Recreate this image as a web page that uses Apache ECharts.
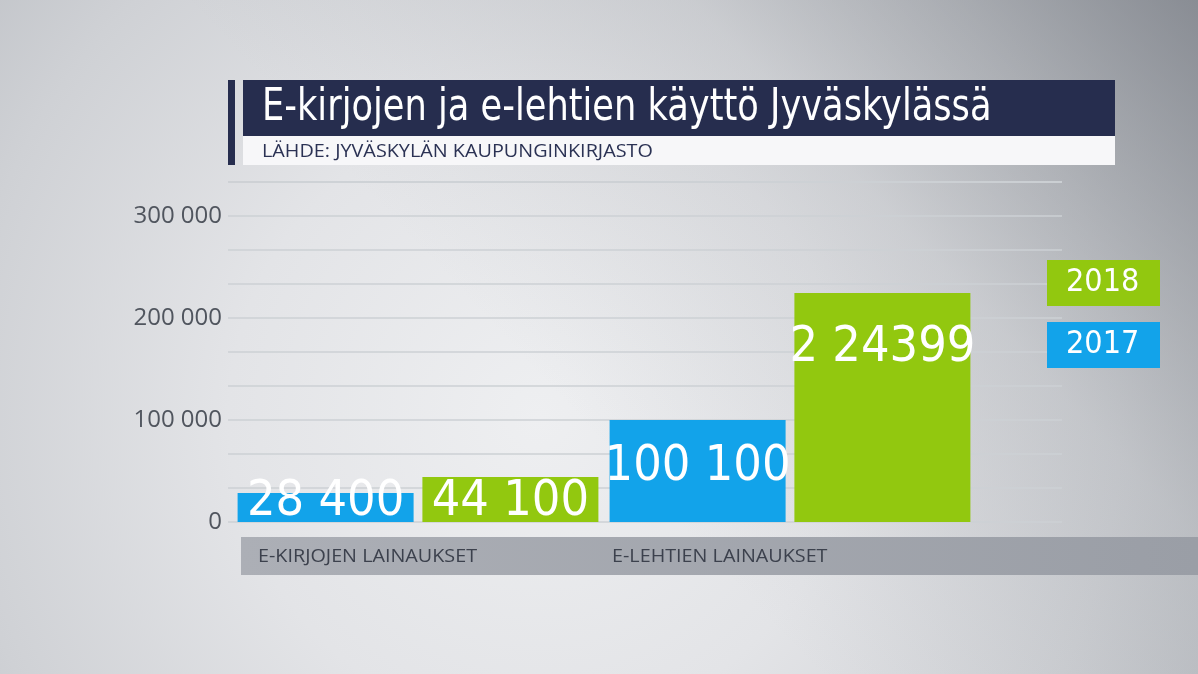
<!DOCTYPE html>
<html>
<head>
<meta charset="utf-8">
<script src="https://cdn.jsdelivr.net/npm/echarts@6/dist/echarts.min.js"></script>
<style>
    html, body { margin: 0; padding: 0; }
    #main { width: 1198px; height: 674px; }
</style>
</head>
<body>
<div id="main"></div>
<script>
// data
var categories = ['E-KIRJOJEN LAINAUKSET', 'E-LEHTIEN LAINAUKSET'];
var years = ['2017', '2018'];
var values2017 = [28400, 100100];
var values2018 = [44100, 224399];
var labels2017 = ['28 400', '100 100'];
var labels2018 = ['44 100', '2 24399'];
var yTicks = [0, 100000, 200000, 300000];

var BLUE = '#12a3ea';
var GREEN = '#92c80f';
var NAVY = '#262d4e';
var NARROW = "'DejaVu Sans Condensed', 'Open Sans', sans-serif";
var SANS = "'Open Sans', 'Noto Sans', sans-serif";

var step = 100000 / 3;
var yMax = step * 10;

function fmt(v) {
    return String(v).replace(/\B(?=(\d{3})+(?!\d))/g, ' ');
}

// label placement per bar
var pos2017 = [{position: 'insideBottom', distance: 0, offset: [0, 5]}, {position: 'inside', offset: [0, -4]}];
var pos2018 = [{position: 'insideBottom', distance: 0, offset: [0, 5]}, {position: 'insideTop', distance: 30}];

function makeData(values, labels, pos) {
    return values.map(function (v, i) {
        return {
            value: v,
            label: Object.assign({formatter: labels[i]}, pos[i])
        };
    });
}

var barLabel = {
    show: true,
    color: '#fff',
    fontFamily: NARROW,
    fontSize: 50,
    fontWeight: 'normal'
};

var myChart = echarts.init(document.getElementById('main'));

myChart.setOption({
    animation: false,
    backgroundColor: {
        type: 'radial', x: 0.45, y: 0.62, r: 1.15,
        colorStops: [
            {offset: 0, color: '#eeeff1'},
            {offset: 0.4, color: '#e3e4e7'},
            {offset: 0.75, color: '#cfd1d5'},
            {offset: 1, color: '#bcbfc4'}
        ]
    },
    graphic: [
        // darker top right corner
        {
            type: 'rect', z: -10, silent: true,
            shape: {x: 0, y: 0, width: 1198, height: 674},
            style: {
                fill: {
                    type: 'linear', x: 1, y: 0, x2: 0.55, y2: 0.75,
                    colorStops: [
                        {offset: 0, color: 'rgba(120,124,132,0.75)'},
                        {offset: 0.5, color: 'rgba(140,144,150,0.2)'},
                        {offset: 1, color: 'rgba(150,154,160,0)'}
                    ]
                }
            }
        },
        {type: 'rect', shape: {x: 228, y: 80, width: 7, height: 85}, style: {fill: NAVY}},
        {type: 'rect', shape: {x: 243, y: 80, width: 872, height: 56}, style: {fill: NAVY}},
        {type: 'rect', shape: {x: 243, y: 136, width: 872, height: 29}, style: {fill: '#f7f7f9'}},
        {
            type: 'text', x: 262, y: 109, scaleX: 0.89,
            style: {
                text: 'E-kirjojen ja e-lehtien käyttö Jyväskylässä',
                fill: '#fff', font: '44px ' + NARROW, verticalAlign: 'middle'
            }
        },
        {
            type: 'text', x: 262, y: 152, scaleX: 1.1,
            style: {
                text: 'LÄHDE: JYVÄSKYLÄN KAUPUNGINKIRJASTO',
                fill: '#2b3254', font: '18px ' + SANS, verticalAlign: 'middle'
            }
        },
        {
            type: 'rect', z: -1,
            shape: {x: 241, y: 537, width: 957, height: 38},
            style: {
                fill: {
                    type: 'linear', x: 0, y: 0, x2: 1, y2: 0,
                    colorStops: [{offset: 0, color: '#acafb6'}, {offset: 1, color: '#9a9ea6'}]
                }
            }
        },
        {
            type: 'text', x: 258, y: 557, scaleX: 1.04,
            style: {text: categories[0], fill: '#3c414d', font: '19px ' + SANS, verticalAlign: 'middle'}
        },
        {
            type: 'text', x: 612, y: 557, scaleX: 1.04,
            style: {text: categories[1], fill: '#3c414d', font: '19px ' + SANS, verticalAlign: 'middle'}
        }
    ],
    legend: {
        data: [
            {name: '2018', textStyle: {backgroundColor: GREEN}},
            {name: '2017', textStyle: {backgroundColor: BLUE}}
        ],
        orient: 'vertical',
        left: 1042,
        top: 260,
        padding: 0,
        itemGap: 16,
        itemWidth: 0,
        itemHeight: 0,
        icon: 'rect',
        selectedMode: false,
        textStyle: {
            color: '#fff',
            fontFamily: NARROW,
            fontSize: 32,
            width: 76,
            height: 34,
            lineHeight: 34,
            padding: [6, 18, 6, 19]
        }
    },
    grid: [
        {left: 228, right: 136, top: 182, bottom: 152},
        {left: 232, right: 222, top: 182, bottom: 152}
    ],
    xAxis: [
        {gridIndex: 0, type: 'value', show: false},
        {
            gridIndex: 1, type: 'category', data: categories,
            axisLine: {show: false}, axisTick: {show: false}, axisLabel: {show: false}
        }
    ],
    yAxis: [
        {
            gridIndex: 0, type: 'value', min: 0, max: yMax, interval: step,
            axisLine: {show: false}, axisTick: {show: false},
            splitLine: {lineStyle: {color: '#cdd0d4', width: 1.5}},
            axisLabel: {
                margin: 6,
                color: '#50555e',
                fontFamily: SANS,
                fontSize: 24,
                formatter: function (v) {
                    var k = Math.round(v / 100000) * 100000;
                    if (Math.abs(v - k) > 1 || yTicks.indexOf(k) < 0) return '';
                    return fmt(k);
                }
            }
        },
        {gridIndex: 1, type: 'value', min: 0, max: yMax, show: false, splitLine: {show: false}}
    ],
    series: [
        {
            name: years[0], type: 'bar', xAxisIndex: 1, yAxisIndex: 1,
            barWidth: 176, barGap: '5%',
            itemStyle: {color: BLUE},
            label: barLabel,
            data: makeData(values2017, labels2017, pos2017)
        },
        {
            name: years[1], type: 'bar', xAxisIndex: 1, yAxisIndex: 1,
            barWidth: 176, barGap: '5%',
            itemStyle: {color: GREEN},
            label: barLabel,
            data: makeData(values2018, labels2018, pos2018)
        }
    ]
});
</script>
</body>
</html>
